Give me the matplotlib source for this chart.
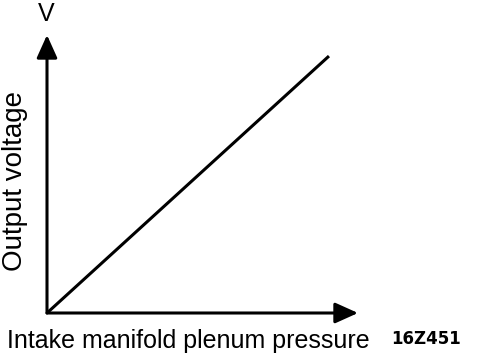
import matplotlib
matplotlib.use("Agg")
from matplotlib import pyplot as plt

# sensor characteristic (arbitrary units)
pressure = [0, 100]
voltage = [0, 100]

x_label = "Intake manifold plenum pressure"
y_label = "Output voltage"
unit = "V"
fig_code = "16Z451"

font = ["Liberation Sans", "DejaVu Sans"]


def main():
    fig = plt.figure(figsize=(4.8, 3.58), dpi=100)
    ax = fig.add_axes([47 / 480, 45 / 358, 311 / 480, 278 / 358])

    ax.plot(pressure, voltage, color="black", lw=2.2, solid_capstyle="butt")
    ax.set_xlim(0, 110.3)
    ax.set_ylim(0, 108.2)

    for s in ax.spines.values():
        s.set_visible(False)
    ax.set_xticks([])
    ax.set_yticks([])

    # axes with arrow heads
    arrow = dict(arrowstyle="-|>,head_length=1.0,head_width=0.45", lw=2.2,
                 color="black", mutation_scale=14, shrinkA=0, shrinkB=0)
    ax.annotate("", xy=(1, 0), xytext=(0, 0), xycoords="axes fraction",
                arrowprops=arrow)
    ax.annotate("", xy=(0, 1), xytext=(0, 0), xycoords="axes fraction",
                arrowprops=arrow)

    fig.text(46 / 480, 1 - 14 / 358, unit, family=font, fontsize=18,
             ha="center", va="center")
    fig.text(15 / 480, 1 - 181 / 358, y_label, family=font, fontsize=20,
             rotation=90, ha="center", va="center")
    fig.text(7 / 480, 1 - 341 / 358, x_label, family=font, fontsize=18,
             ha="left", va="center")
    fig.text(461 / 480, 1 - 339 / 358, fig_code, family="DejaVu Sans",
             fontsize=12, fontweight="bold", ha="right", va="center")

    fig.savefig("out.png", dpi=100, facecolor="white")


if __name__ == "__main__":
    main()
